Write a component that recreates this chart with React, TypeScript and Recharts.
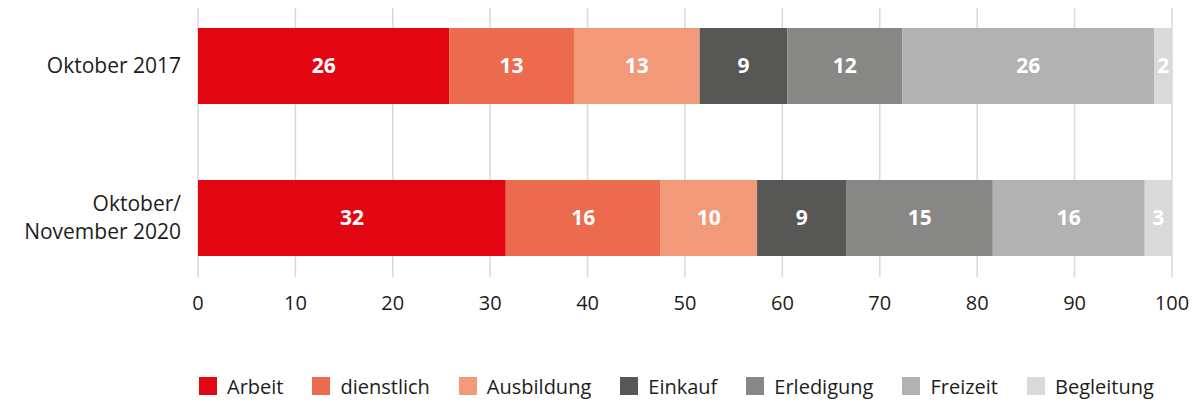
import React from 'react'
import { BarChart, Bar, XAxis, YAxis, CartesianGrid, Legend, LabelList } from 'recharts'

// Zeiträume (Kategorien)
const periods = ['Oktober 2017', 'Oktober/\nNovember 2020']

// Wegezwecke in %
const series = ['Arbeit', 'dienstlich', 'Ausbildung', 'Einkauf', 'Erledigung', 'Freizeit', 'Begleitung']
const arbeit = [25.8, 31.6]
const dienstlich = [12.8, 15.9]
const ausbildung = [12.9, 9.9]
const einkauf = [9.0, 9.2]
const erledigung = [11.8, 15.0]
const freizeit = [25.9, 15.6]
const begleitung = [1.8, 2.8]
const values = [arbeit, dienstlich, ausbildung, einkauf, erledigung, freizeit, begleitung]

const colors = ['#e20613', '#ec6a4d', '#f2997a', '#575756', '#878786', '#b2b2b2', '#dadada']
const xTicks = [0, 10, 20, 30, 40, 50, 60, 70, 80, 90, 100]

const FONT = '"Open Sans", sans-serif'
const TEXT = '#1d1d1b'

const data = periods.map((p, i) => {
  const row: any = { period: p }
  series.forEach((s, j) => { row[s] = values[j][i] })
  return row
})

// Y-Achse: mehrzeilige Beschriftung, rechtsbündig
const PeriodTick = ({ x, y, payload }: any) => {
  const lines = String(payload.value).split('\n')
  const lh = 28
  const start = -((lines.length - 1) * lh) / 2
  return (
    <text x={x} y={y} textAnchor="end" fill={TEXT} fontSize={21} fontFamily={FONT}>
      {lines.map((l, i) => (
        <tspan key={i} x={x} y={y + start + i * lh} dy="0.35em">{l}</tspan>
      ))}
    </text>
  )
}

const LegendContent = () => (
  <div style={{ display: 'flex', alignItems: 'center', height: 24, paddingLeft: 199, fontFamily: FONT, fontSize: 20, color: TEXT }}>
    {series.map((s, i) => (
      <span key={s} style={{ display: 'flex', alignItems: 'center', marginRight: 29 }}>
        <span style={{ width: 18, height: 18, background: colors[i], marginRight: 10, display: 'inline-block' }} />
        {s}
      </span>
    ))}
  </div>
)

export default function App() {
  return (
    <div style={{ position: 'absolute', left: 0, top: 0 }}>
      <BarChart
        width={1199}
        height={403}
        data={data}
        layout="vertical"
        margin={{ top: 8, right: 27, bottom: 62, left: 0 }}
      >
        <CartesianGrid horizontal={false} stroke="#d9d9d9" strokeWidth={1.5} />
        <XAxis
          type="number"
          domain={[0, 100]}
          ticks={xTicks}
          axisLine={false}
          tickLine={false}
          tickSize={0}
          tickMargin={19}
          height={40}
          interval={0}
          tick={{ fill: TEXT, fontSize: 20, fontFamily: FONT }}
        />
        <YAxis
          type="category"
          dataKey="period"
          width={198}
          axisLine={false}
          tickLine={false}
          tickSize={0}
          tickMargin={17}
          padding={{ top: -18, bottom: -17 }}
          tick={<PeriodTick />}
        />
        <Legend verticalAlign="bottom" content={<LegendContent />} wrapperStyle={{ left: 0, width: 1199, bottom: 5 }} />
        {series.map((s, i) => (
          <Bar key={s} dataKey={s} stackId="a" fill={colors[i]} barSize={76} isAnimationActive={false}>
            <LabelList
              dataKey={s}
              position="center"
              formatter={(v: any) => Math.round(v)}
              fill="#ffffff"
              fontSize={21}
              fontWeight={700}
              fontFamily={FONT}
            />
          </Bar>
        ))}
      </BarChart>
    </div>
  )
}
